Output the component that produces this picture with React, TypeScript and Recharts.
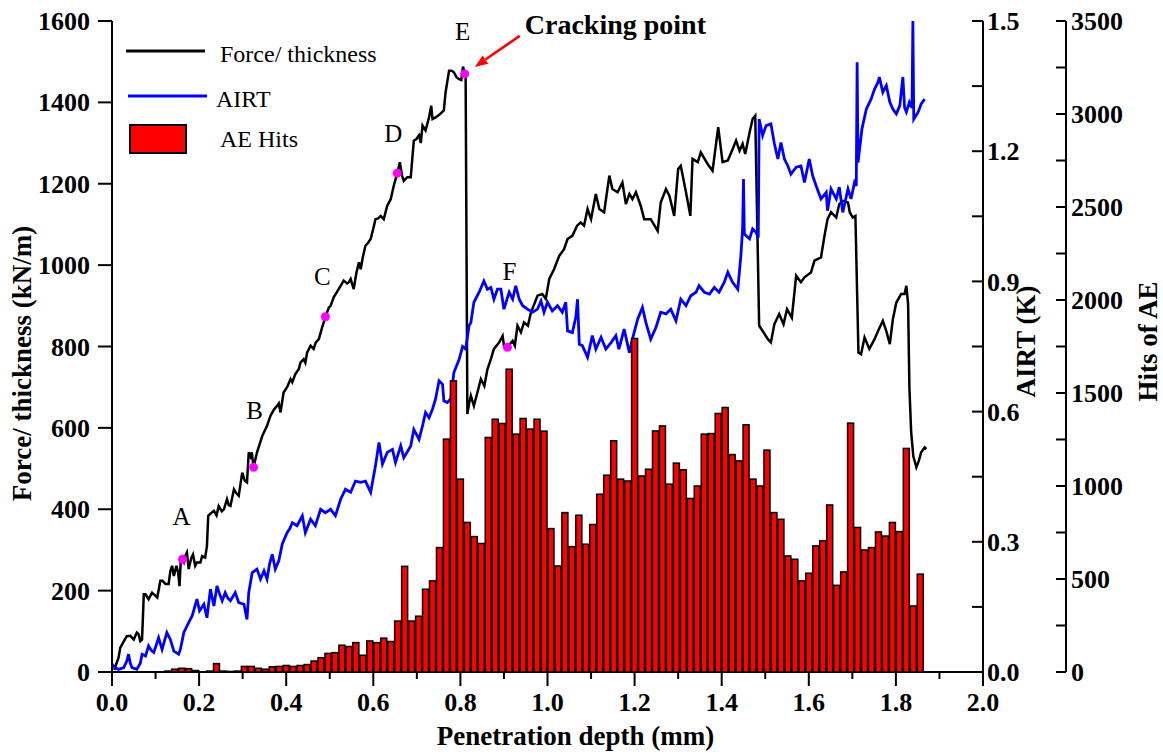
import React from 'react';
import { ComposedChart, Line, Bar, Scatter, XAxis, YAxis, Legend } from 'recharts';

const FONT = "'Liberation Serif', 'Times New Roman', serif";

// Force / thickness curve (kN/m) vs penetration depth (mm)
const forceDepth = [
  0.005, 0.015, 0.019, 0.027, 0.034, 0.042, 0.05, 0.057, 0.061, 0.065, 0.069, 0.073, 0.077, 0.084, 0.092, 0.1, 0.104,
  0.111, 0.116, 0.123, 0.13, 0.134, 0.138, 0.142, 0.148, 0.152, 0.155, 0.158, 0.162, 0.165, 0.168, 0.172, 0.176, 0.182,
  0.186, 0.191, 0.195, 0.203, 0.207, 0.214, 0.218, 0.221, 0.227, 0.234, 0.24, 0.245, 0.252, 0.257, 0.264, 0.268, 0.272,
  0.28, 0.285, 0.291, 0.299, 0.305, 0.31, 0.314, 0.318, 0.321, 0.325, 0.333, 0.345, 0.356, 0.364, 0.372, 0.379, 0.383,
  0.387, 0.394, 0.402, 0.41, 0.414, 0.421, 0.429, 0.433, 0.44, 0.444, 0.448, 0.456, 0.463, 0.468, 0.475, 0.482, 0.49,
  0.498, 0.502, 0.509, 0.517, 0.525, 0.532, 0.54, 0.544, 0.548, 0.555, 0.561, 0.567, 0.571, 0.576, 0.582, 0.588, 0.594,
  0.6, 0.605, 0.611, 0.617, 0.624, 0.632, 0.64, 0.647, 0.655, 0.661, 0.666, 0.67, 0.678, 0.686, 0.693, 0.699, 0.705,
  0.709, 0.713, 0.72, 0.728, 0.733, 0.736, 0.743, 0.752, 0.762, 0.766, 0.774, 0.78, 0.785, 0.791, 0.797, 0.802, 0.806,
  0.81, 0.812, 0.816, 0.82, 0.824, 0.831, 0.839, 0.847, 0.855, 0.862, 0.87, 0.877, 0.889, 0.897, 0.9, 0.908, 0.92,
  0.925, 0.931, 0.939, 0.946, 0.955, 0.962, 0.97, 0.977, 0.988, 0.996, 1.004, 1.015, 1.027, 1.038, 1.046, 1.057, 1.068,
  1.076, 1.084, 1.092, 1.1, 1.111, 1.119, 1.13, 1.142, 1.149, 1.161, 1.172, 1.18, 1.188, 1.195, 1.203, 1.214, 1.222,
  1.237, 1.253, 1.26, 1.272, 1.28, 1.291, 1.3, 1.306, 1.318, 1.328, 1.333, 1.345, 1.352, 1.368, 1.379, 1.392, 1.402,
  1.414, 1.425, 1.433, 1.441, 1.448, 1.454, 1.464, 1.471, 1.477, 1.486, 1.494, 1.506, 1.513, 1.521, 1.532, 1.542, 1.55,
  1.561, 1.571, 1.582, 1.59, 1.605, 1.613, 1.628, 1.636, 1.643, 1.651, 1.663, 1.67, 1.678, 1.69, 1.694, 1.701, 1.707,
  1.714, 1.72, 1.728, 1.739, 1.751, 1.759, 1.77, 1.778, 1.786, 1.793, 1.801, 1.812, 1.82, 1.824, 1.828, 1.831, 1.835,
  1.84, 1.847, 1.853, 1.858, 1.866, 1.87
];
const forceValue = [
  5, 35, 60, 75, 88, 89, 80, 97, 93, 76, 80, 191, 191, 179, 195, 187, 183,
  224, 224, 216, 216, 248, 261, 236, 261, 244, 211, 277, 277, 270, 285, 294, 253, 280,
  289, 261, 269, 269, 285, 281, 310, 384, 390, 396, 385, 408, 395, 400, 425, 410, 408,
  449, 440, 433, 490, 470, 466, 540, 530, 540, 503, 540, 580, 605, 630, 645, 654, 660,
  638, 687, 700, 720, 712, 732, 745, 761, 769, 760, 785, 802, 794, 810, 818, 845, 873,
  896, 900, 921, 935, 949, 962, 955, 958, 966, 941, 980, 1007, 990, 1020, 1048, 1055, 1064,
  1090, 1113, 1115, 1121, 1113, 1146, 1162, 1195, 1226, 1253, 1220, 1207, 1216, 1216, 1306, 1310, 1319,
  1300, 1343, 1331, 1363, 1392, 1359, 1363, 1370, 1380, 1425, 1478, 1478, 1474, 1462, 1457, 1455, 1488,
  1470, 1468, 634, 660, 679, 654, 687, 720, 703, 744, 769, 794, 810, 826, 802, 798, 814,
  802, 851, 835, 859, 851, 884, 905, 925, 929, 917, 966, 990, 1023, 1039, 1064, 1072, 1097,
  1105, 1097, 1138, 1113, 1175, 1138, 1130, 1220, 1187, 1179, 1203, 1150, 1175, 1162, 1179, 1146, 1113,
  1113, 1084, 1154, 1187, 1170, 1121, 1236, 1244, 1179, 1121, 1261, 1253, 1277, 1248, 1232, 1339, 1253,
  1257, 1285, 1306, 1281, 1298, 1273, 1326, 1359, 1367, 851, 838, 818, 810, 855, 880, 855, 892,
  871, 974, 958, 970, 982, 1011, 1019, 1072, 1113, 1130, 1117, 1150, 1158, 1154, 1130, 1117, 1121,
  785, 781, 822, 794, 818, 838, 863, 838, 806, 867, 908, 929, 929, 949, 905, 700, 590,
  530, 503, 520, 540, 552, 548
];

// AIRT (K) vs penetration depth (mm)
const airtDepth = [
  0, 0.008, 0.015, 0.027, 0.034, 0.038, 0.042, 0.046, 0.057, 0.065, 0.069, 0.077, 0.084, 0.09, 0.096, 0.107, 0.115,
  0.12, 0.126, 0.134, 0.142, 0.153, 0.157, 0.165, 0.176, 0.184, 0.19, 0.195, 0.201, 0.211, 0.218, 0.226, 0.234, 0.241,
  0.247, 0.253, 0.26, 0.266, 0.272, 0.283, 0.291, 0.303, 0.31, 0.314, 0.322, 0.333, 0.341, 0.349, 0.356, 0.362, 0.368,
  0.375, 0.383, 0.391, 0.402, 0.408, 0.414, 0.425, 0.437, 0.444, 0.456, 0.467, 0.479, 0.49, 0.502, 0.513, 0.525, 0.536,
  0.548, 0.559, 0.571, 0.582, 0.594, 0.605, 0.613, 0.621, 0.632, 0.644, 0.651, 0.663, 0.67, 0.686, 0.693, 0.705, 0.713,
  0.72, 0.728, 0.736, 0.743, 0.751, 0.759, 0.762, 0.77, 0.778, 0.785, 0.797, 0.805, 0.812, 0.82, 0.824, 0.831, 0.843,
  0.854, 0.862, 0.87, 0.877, 0.885, 0.893, 0.9, 0.912, 0.92, 0.927, 0.935, 0.943, 0.954, 0.966, 0.977, 0.985, 0.992,
  1.0, 1.011, 1.023, 1.034, 1.042, 1.046, 1.057, 1.065, 1.069, 1.073, 1.08, 1.092, 1.103, 1.111, 1.123, 1.134, 1.146,
  1.157, 1.164, 1.176, 1.188, 1.195, 1.207, 1.218, 1.226, 1.237, 1.249, 1.26, 1.272, 1.283, 1.295, 1.306, 1.318, 1.329,
  1.341, 1.348, 1.36, 1.372, 1.383, 1.394, 1.406, 1.414, 1.425, 1.437, 1.444, 1.448, 1.45, 1.452, 1.456, 1.464, 1.471,
  1.479, 1.484, 1.486, 1.494, 1.502, 1.513, 1.521, 1.529, 1.536, 1.544, 1.552, 1.559, 1.571, 1.582, 1.59, 1.601, 1.609,
  1.617, 1.628, 1.64, 1.643, 1.651, 1.663, 1.67, 1.678, 1.69, 1.697, 1.705, 1.709, 1.711, 1.713, 1.722, 1.732, 1.743,
  1.751, 1.759, 1.762, 1.77, 1.778, 1.786, 1.793, 1.801, 1.809, 1.816, 1.82, 1.824, 1.831, 1.837, 1.839, 1.841, 1.851,
  1.858, 1.866
];
const airtValue = [
  0.018, 0.01, 0.006, 0.01, 0.025, 0.041, 0.02, 0.01, 0.006, 0.02, 0.041, 0.037, 0.06, 0.05, 0.045, 0.079, 0.052,
  0.07, 0.091, 0.075, 0.048, 0.041, 0.052, 0.091, 0.114, 0.129, 0.15, 0.168, 0.141, 0.156, 0.125, 0.191, 0.152, 0.198,
  0.18, 0.164, 0.183, 0.17, 0.164, 0.183, 0.16, 0.156, 0.121, 0.183, 0.229, 0.237, 0.214, 0.233, 0.214, 0.25, 0.271,
  0.237, 0.256, 0.295, 0.321, 0.33, 0.344, 0.337, 0.36, 0.321, 0.352, 0.337, 0.375, 0.367, 0.375, 0.36, 0.398, 0.421,
  0.414, 0.44, 0.437, 0.44, 0.414, 0.475, 0.529, 0.479, 0.506, 0.513, 0.483, 0.521, 0.494, 0.521, 0.559, 0.536, 0.567,
  0.598, 0.586, 0.606, 0.629, 0.671, 0.663, 0.625, 0.621, 0.63, 0.69, 0.72, 0.75, 0.744, 0.798, 0.805, 0.852, 0.875,
  0.901, 0.882, 0.886, 0.859, 0.882, 0.882, 0.836, 0.875, 0.859, 0.89, 0.859, 0.844, 0.836, 0.829, 0.836, 0.855, 0.829,
  0.852, 0.832, 0.844, 0.829, 0.852, 0.786, 0.782, 0.817, 0.859, 0.755, 0.752, 0.725, 0.775, 0.744, 0.771, 0.744, 0.759,
  0.775, 0.744, 0.79, 0.736, 0.767, 0.813, 0.84, 0.805, 0.767, 0.794, 0.829, 0.825, 0.836, 0.809, 0.859, 0.844, 0.867,
  0.875, 0.89, 0.875, 0.871, 0.886, 0.875, 0.898, 0.921, 0.898, 0.882, 0.959, 1.021, 1.136, 1.01, 1.005, 0.998, 1.021,
  1.013, 1.001, 1.274, 1.236, 1.259, 1.263, 1.217, 1.182, 1.22, 1.182, 1.166, 1.147, 1.163, 1.166, 1.128, 1.182, 1.143,
  1.12, 1.09, 1.105, 1.063, 1.113, 1.09, 1.117, 1.059, 1.113, 1.09, 1.128, 1.12, 1.405, 1.174, 1.251, 1.297, 1.32,
  1.343, 1.359, 1.371, 1.336, 1.351, 1.313, 1.297, 1.286, 1.305, 1.371, 1.3, 1.29, 1.313, 1.3, 1.5, 1.274, 1.29,
  1.309, 1.32
];

// AE hits per depth bin
const aeDepth = [
  0.016, 0.032, 0.048, 0.064, 0.08, 0.096, 0.112, 0.128, 0.144, 0.16, 0.176, 0.192, 0.208, 0.224, 0.24, 0.256,
  0.272, 0.288, 0.304, 0.32, 0.336, 0.352, 0.368, 0.384, 0.4, 0.416, 0.432, 0.448, 0.464, 0.48, 0.496, 0.512,
  0.528, 0.544, 0.56, 0.576, 0.592, 0.608, 0.624, 0.64, 0.656, 0.672, 0.688, 0.704, 0.72, 0.736, 0.752, 0.768,
  0.784, 0.8, 0.816, 0.832, 0.848, 0.864, 0.88, 0.896, 0.912, 0.928, 0.944, 0.96, 0.976, 0.992, 1.008, 1.024,
  1.04, 1.056, 1.072, 1.088, 1.104, 1.12, 1.136, 1.152, 1.168, 1.184, 1.2, 1.216, 1.232, 1.248, 1.264, 1.28,
  1.296, 1.312, 1.328, 1.344, 1.36, 1.376, 1.392, 1.408, 1.424, 1.44, 1.456, 1.472, 1.488, 1.504, 1.52, 1.536,
  1.552, 1.568, 1.584, 1.6, 1.616, 1.632, 1.648, 1.664, 1.68, 1.696, 1.712, 1.728, 1.744, 1.76, 1.776, 1.792,
  1.808, 1.824, 1.84, 1.856
];
const aeHits = [
  0, 0, 0, 0, 0, 0, 0, 5, 15, 20, 18, 8, 0, 5, 45, 5,
  3, 5, 30, 30, 20, 15, 28, 30, 35, 30, 35, 40, 59, 77, 100, 104,
  144, 137, 158, 90, 167, 158, 182, 164, 274, 568, 274, 300, 445, 490, 669, 1252,
  1565, 1037, 804, 728, 691, 1261, 1359, 1336, 1628, 1279, 1363, 1306, 1359, 1295, 771, 570,
  857, 674, 843, 687, 793, 956, 1058, 1243, 1037, 1027, 1793, 1054, 1090, 1296, 1323, 1010,
  1123, 1087, 933, 1000, 1279, 1282, 1390, 1422, 1169, 1135, 1329, 1037, 1000, 1193, 857, 821,
  624, 606, 490, 531, 678, 705, 898, 466, 538, 1338, 777, 656, 669, 753, 731, 804,
  755, 1202, 355, 526
];

// marked points on the force curve
const pointNames = ['A', 'B', 'C', 'D', 'E', 'F'];
const pointDepth = [0.162, 0.325, 0.49, 0.655, 0.81, 0.908];
const pointForce = [277, 503, 873, 1226, 1470, 798];

const depthTicks = [0, 0.1, 0.2, 0.3, 0.4, 0.5, 0.6, 0.7, 0.8, 0.9, 1.0, 1.1, 1.2, 1.3, 1.4, 1.5, 1.6, 1.7, 1.8, 1.9, 2.0];
const forceTicks = [0, 200, 400, 600, 800, 1000, 1200, 1400, 1600];
const airtTicks = [0, 0.15, 0.3, 0.45, 0.6, 0.75, 0.9, 1.05, 1.2, 1.35, 1.5];
const hitsTicks = [0, 250, 500, 750, 1000, 1250, 1500, 1750, 2000, 2250, 2500, 2750, 3000, 3250, 3500];

const forceData = forceDepth.map((d, i) => ({ depth: d, force: forceValue[i] }));
const airtData = airtDepth.map((d, i) => ({ depth: d, airt: airtValue[i] }));
const aeData = aeDepth.map((d, i) => ({ depth: d, hits: aeHits[i] }));
const pointData = pointNames.map((n, i) => ({ name: n, depth: pointDepth[i], force: pointForce[i] }));

// label placement above each marker (px)
const labelLift: Record<string, number> = { A: 43, B: 57, C: 40, D: 40, E: 42, F: 76 };
const labelShift: Record<string, number> = { A: -1, B: 1, C: -3, D: -4, E: -2, F: 2 };

const tickText = { fontFamily: FONT, fontWeight: 700, fontSize: 26, fill: '#000' } as const;
const titleText = { fontFamily: FONT, fontWeight: 700, fontSize: 27, fill: '#000' } as const;

const XTick = (props: any) => {
  const { x, y, payload } = props;
  const v = payload.value as number;
  const major = Math.round(v * 10) % 2 === 0;
  return (
    <g>
      <line x1={x} y1={y} x2={x} y2={y + (major ? 14 : 7)} stroke="#000" strokeWidth={2} />
      {major && (
        <text x={x} y={y + 39} textAnchor="middle" style={tickText}>
          {v.toFixed(1)}
        </text>
      )}
    </g>
  );
};

const LeftTick = (props: any) => {
  const { x, y, payload } = props;
  return (
    <g>
      <line x1={x} y1={y} x2={x - 14} y2={y} stroke="#000" strokeWidth={2} />
      <text x={x - 22} y={y} dy="0.35em" textAnchor="end" style={tickText}>
        {payload.value}
      </text>
    </g>
  );
};

const AirtTick = (props: any) => {
  const { x, y, payload } = props;
  const v = payload.value as number;
  const major = Math.round(v / 0.15) % 2 === 0;
  return (
    <g>
      <line x1={x} y1={y} x2={x - 11} y2={y} stroke="#000" strokeWidth={2} />
      {major && (
        <text x={x + 4} y={y} dy="0.35em" textAnchor="start" style={tickText}>
          {v.toFixed(1)}
        </text>
      )}
    </g>
  );
};

const HitsTick = (props: any) => {
  const { x, y, payload } = props;
  const v = payload.value as number;
  const major = v % 500 === 0;
  return (
    <g>
      <line x1={x} y1={y} x2={x - 10} y2={y} stroke="#000" strokeWidth={2} />
      {major && (
        <text x={x + 5} y={y} dy="0.35em" textAnchor="start" style={tickText}>
          {v}
        </text>
      )}
    </g>
  );
};

const rotTitle = (text: string, dx: number, dy: number) => (p: any) => {
  const vb = p.viewBox || { x: 0, y: 0, width: 0, height: 0 };
  const cx = vb.x + dx;
  const cy = vb.y + vb.height / 2 + dy;
  return (
    <text transform={`translate(${cx},${cy}) rotate(-90)`} textAnchor="middle" dominantBaseline="central" style={titleText}>
      {text}
    </text>
  );
};

const xTitle = (p: any) => {
  const vb = p.viewBox || { x: 0, y: 0, width: 0, height: 0 };
  return (
    <text x={vb.x + vb.width / 2 + 28} y={vb.y + 73} textAnchor="middle" style={titleText}>
      Penetration depth (mm)
    </text>
  );
};

const BarShape = (p: any) => {
  const { x, y, width, height } = p;
  if (![x, y, width, height].every((n) => Number.isFinite(n))) return <g />;
  const mid = x + width / 2;
  return <rect x={mid - 3} y={y} width={6} height={Math.max(height, 0)} fill="#ff0000" stroke="#000" strokeWidth={1.5} />;
};

const MarkerShape = (p: any) => {
  const { cx, cy, payload } = p;
  if (!Number.isFinite(cx) || !Number.isFinite(cy)) return <g />;
  const name = payload.name as string;
  const tipX = cx + 10;
  const tipY = cy - 7;
  const tailX = cx + 55;
  const tailY = cy - 38;
  const len = Math.hypot(tipX - tailX, tipY - tailY);
  const ux = (tipX - tailX) / len;
  const uy = (tipY - tailY) / len;
  const bx = tipX - ux * 13;
  const by = tipY - uy * 13;
  return (
    <g>
      <circle cx={cx} cy={cy} r={4.5} fill="#ff00ff" />
      <text
        x={cx + labelShift[name]}
        y={cy - labelLift[name] + 8.5}
        textAnchor="middle"
        style={{ fontFamily: FONT, fontSize: 25, fill: '#000' }}
      >
        {name}
      </text>
      {name === 'E' && (
        <g>
          <line x1={tailX} y1={tailY} x2={bx} y2={by} stroke="#ff0000" strokeWidth={2.5} />
          <polygon
            points={`${tipX},${tipY} ${bx - uy * 5},${by + ux * 5} ${bx + uy * 5},${by - ux * 5}`}
            fill="#ff0000"
          />
          <text x={cx + 60} y={cy - 40} style={{ fontFamily: FONT, fontWeight: 700, fontSize: 28, fill: '#000' }}>
            Cracking point
          </text>
        </g>
      )}
    </g>
  );
};

const legendItems = [
  { label: 'Force/ thickness', kind: 'line', color: '#000000' },
  { label: 'AIRT', kind: 'line', color: '#0000ff' },
  { label: 'AE Hits', kind: 'box', color: '#ff0000' }
];

const renderLegend = () => {
  const rows = [51, 96, 139];
  const textX = [220, 216, 220];
  return (
    <svg width={420} height={170} style={{ display: 'block' }}>
      {legendItems.map((it, i) =>
        it.kind === 'line' ? (
          <g key={it.label}>
            <line x1={126 + i * 2} y1={rows[i]} x2={205 + i * 2} y2={rows[i]} stroke={it.color} strokeWidth={3} />
            <text x={textX[i]} y={rows[i] + 11} style={{ fontFamily: FONT, fontSize: 24, fill: '#000' }}>
              {it.label}
            </text>
          </g>
        ) : (
          <g key={it.label}>
            <rect x={130} y={rows[i] - 14} width={56} height={28} fill={it.color} stroke="#000" strokeWidth={2} />
            <text x={textX[i]} y={rows[i] + 8} style={{ fontFamily: FONT, fontSize: 24, fill: '#000' }}>
              {it.label}
            </text>
          </g>
        )
      )}
    </svg>
  );
};

export default function App() {
  return (
    <div style={{ position: 'absolute', left: 0, top: 0, width: 1163, height: 754, background: '#fff', fontFamily: FONT }}>
      <ComposedChart width={1163} height={754} data={aeData} margin={{ top: 21, right: 12, bottom: 12, left: 12 }}>
        <XAxis
          type="number"
          dataKey="depth"
          domain={[0, 2]}
          ticks={depthTicks}
          interval={0}
          allowDataOverflow
          height={70}
          tickSize={0}
          tickMargin={0}
          tickLine={false}
          tick={XTick}
          axisLine={{ stroke: '#000', strokeWidth: 2 }}
          label={{ content: xTitle }}
        />
        <YAxis
          yAxisId="force"
          orientation="left"
          width={100}
          domain={[0, 1600]}
          ticks={forceTicks}
          interval={0}
          tickSize={0}
          tickMargin={0}
          tickLine={false}
          tick={LeftTick}
          axisLine={{ stroke: '#000', strokeWidth: 2 }}
          label={{ content: rotTitle('Force/ thickness (kN/m)', 10, 17) }}
        />
        <YAxis
          yAxisId="airt"
          orientation="right"
          width={83}
          domain={[0, 1.5]}
          ticks={airtTicks}
          interval={0}
          tickSize={0}
          tickMargin={0}
          tickLine={false}
          tick={AirtTick}
          axisLine={{ stroke: '#000', strokeWidth: 2 }}
          label={{ content: rotTitle('AIRT (K)', 43, -5) }}
        />
        <YAxis
          yAxisId="hits"
          orientation="right"
          width={85}
          domain={[0, 3500]}
          ticks={hitsTicks}
          interval={0}
          tickSize={0}
          tickMargin={0}
          tickLine={false}
          tick={HitsTick}
          axisLine={{ stroke: '#000', strokeWidth: 2 }}
          label={{ content: rotTitle('Hits of AE', 82, -5) }}
        />
        <Legend
          content={renderLegend}
          layout="vertical"
          align="center"
          verticalAlign="middle"
          wrapperStyle={{ left: 0, top: 0, width: 420, height: 170 }}
        />
        <Line
          data={forceData}
          dataKey="force"
          yAxisId="force"
          type="linear"
          stroke="#000"
          strokeWidth={2.5}
          dot={false}
          activeDot={false}
          isAnimationActive={false}
        />
        <Line
          data={airtData}
          dataKey="airt"
          yAxisId="airt"
          type="linear"
          stroke="#0000ff"
          strokeWidth={2.8}
          dot={false}
          activeDot={false}
          isAnimationActive={false}
        />
        <Bar dataKey="hits" yAxisId="hits" barSize={6} shape={BarShape} isAnimationActive={false} zIndex={700} />
        <Scatter
          data={pointData}
          dataKey="force"
          yAxisId="force"
          shape={MarkerShape}
          isAnimationActive={false}
          zIndex={800}
        />
      </ComposedChart>
    </div>
  );
}
